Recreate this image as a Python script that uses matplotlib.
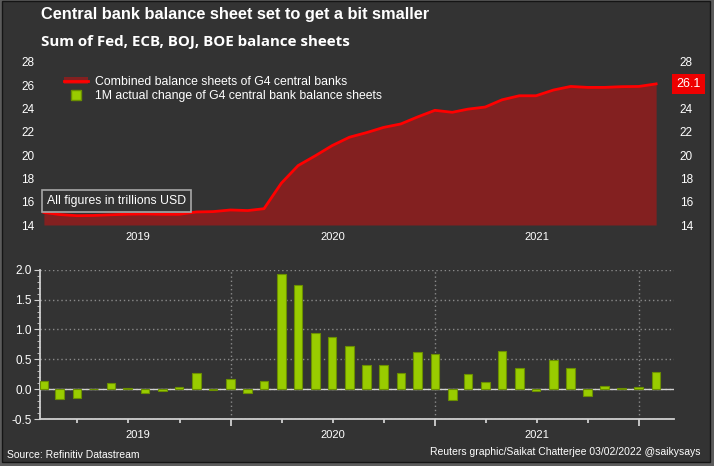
import numpy as np
import pandas as pd
import matplotlib
matplotlib.use("Agg")
import matplotlib.pyplot as plt
from matplotlib.patches import Rectangle, Patch
from matplotlib.lines import Line2D

# month-end observations, Jan 2019 .. Jan 2022
months = pd.date_range("2019-01-31", "2022-01-31", freq="ME")

# combined balance sheets of Fed, ECB, BOJ, BOE (trillions USD)
balance = [15.08, 14.90, 14.80, 14.82, 14.88, 14.93, 14.95, 14.92, 14.92,
           15.12, 15.15, 15.29, 15.24, 15.40, 17.59, 19.10, 19.95, 20.82,
           21.54, 21.94, 22.38, 22.68, 23.28, 23.85, 23.68, 23.95, 24.13,
           24.75, 25.10, 25.10, 25.59, 25.90, 25.82, 25.82, 25.88, 25.90,
           26.12]

# 1M actual change (trillions USD)
changes = [0.13, -0.17, -0.14, 0.0, 0.11, 0.02, -0.06, -0.03, 0.03,
           0.27, -0.02, 0.17, -0.07, 0.14, 1.92, 1.74, 0.94, 0.88,
           0.72, 0.40, 0.40, 0.27, 0.62, 0.59, -0.19, 0.25, 0.12,
           0.64, 0.35, -0.03, 0.49, 0.35, -0.11, 0.06, 0.02, 0.03,
           0.29]

last_label = "26.1"
left_ticks = [14, 16, 18, 20, 22, 24, 26, 28]
right_ticks = [14, 16, 18, 20, 22, 24, 28]   # 26 is hidden by the last-value tag
year_labels = ["2019", "2020", "2021"]
year_label_pos = pd.to_datetime(["2019-07-19", "2020-07-01", "2021-07-01"])
year_starts = pd.to_datetime(["2020-01-01", "2021-01-01", "2022-01-01"])
quarter_starts = pd.date_range("2019-04-01", "2022-01-01", freq="QS")

BG = "#333333"
FILL = "#832020"
LINE = "#ff0000"
BAR = "#99cc00"
BAR_EDGE = "#6b8f00"
TXT = "#ffffff"

W, H = 714, 466
fig = plt.figure(figsize=(W / 100, H / 100), dpi=100)
fig.patch.set_facecolor("#5c5c5c")
fig.patches.append(Rectangle((2 / W, 4 / H), 708 / W, 461 / H,
                             transform=fig.transFigure, facecolor=BG,
                             edgecolor="#151515", lw=1, zorder=-10))

xmin = pd.Timestamp("2019-01-24")
xmax = pd.Timestamp("2022-03-04")

# ---- top chart
ax1 = fig.add_axes([40 / W, 1 - 225 / H, 634 / W, 163 / H])
ax1.set_facecolor("none")
ax1.fill_between(months, 14, balance, color=FILL, lw=0)
ax1.plot(months, balance, color=LINE, lw=2)
ax1.set_xlim(xmin, xmax)
ax1.set_ylim(14, 28)
ax1.set_yticks(left_ticks)
ax1.set_xticks([])
ax1r = ax1.twinx()
ax1r.set_ylim(14, 28)
ax1r.set_yticks(right_ticks)
for a in (ax1, ax1r):
    for s in a.spines.values():
        s.set_visible(False)
    a.tick_params(axis="y", length=0, labelcolor=TXT, labelsize=8.5, pad=4)
    for lab in a.get_yticklabels():
        lab.set_family("Liberation Sans")
for p, t in zip(year_label_pos, year_labels):
    ax1.annotate(t, (p, 0), xycoords=("data", "axes fraction"),
                 xytext=(0, -8.6), textcoords="offset points",
                 ha="center", va="center", color=TXT, fontsize=8,
                 family="Liberation Sans")

ax1r.annotate(last_label, (1, 26.1), xycoords=("axes fraction", "data"),
              xytext=(1.5, 0), textcoords="offset points", ha="left",
              va="center", color=TXT, fontsize=9, family="Liberation Sans",
              zorder=10,
              bbox=dict(boxstyle="square,pad=0.35", fc="#ee0000", ec="none"))

ax1.text(0.011, 0.147, "All figures in trillions USD", transform=ax1.transAxes,
         ha="left", va="center", color=TXT, fontsize=8.8,
         family="Liberation Sans",
         bbox=dict(boxstyle="square,pad=0.4", fc=BG, ec="#a8a8a8", lw=1.2))

handles = [(Patch(fc=FILL, ec="none"), Line2D([], [], color=LINE, lw=2)),
           Line2D([], [], marker="s", ls="none", mfc=BAR, mec=BAR_EDGE, ms=7)]
leg = ax1.legend(handles, ["Combined balance sheets of G4 central banks",
                           "1M actual change of G4 central bank balance sheets"],
                 loc="upper left", bbox_to_anchor=(0.03, 0.945), frameon=False,
                 prop={"family": "Liberation Sans", "size": 8.8},
                 handlelength=2.0, handleheight=0.6, handletextpad=0.55,
                 labelspacing=0.15, borderaxespad=0)
for t in leg.get_texts():
    t.set_color(TXT)

# ---- bottom chart
ax2 = fig.add_axes([40 / W, 1 - 419 / H, 634 / W, 149.3 / H])
ax2.set_facecolor("none")
ax2.bar(months, changes, width=15.5, color=BAR, edgecolor=BAR_EDGE, lw=0.8,
        zorder=3)
ax2.axhline(0, color="#d0d0d0", lw=1, zorder=2)
ax2.set_xlim(xmin, xmax)
ax2.set_ylim(-0.5, 2.0)
ax2.set_yticks(np.arange(-0.5, 2.01, 0.5))
ax2.set_yticks(np.arange(-0.5, 2.01, 0.1), minor=True)
ax2.yaxis.set_major_formatter(matplotlib.ticker.FormatStrFormatter("%.1f"))
ax2.set_xticks(year_starts)
ax2.set_xticks(quarter_starts, minor=True)
ax2.set_xticklabels([])
ax2.grid(axis="y", which="major", ls=(0, (1, 2)), color="#8a8a8a", lw=1)
ax2.grid(axis="x", which="major", ls=(0, (1, 2)), color="#8a8a8a", lw=1)
for s in ["top", "right"]:
    ax2.spines[s].set_visible(False)
for s in ["left", "bottom"]:
    ax2.spines[s].set_color("#d0d0d0")
    ax2.spines[s].set_linewidth(1.3)
ax2.tick_params(axis="y", which="major", length=4, color="#d0d0d0",
                labelcolor=TXT, labelsize=8.5, pad=2)
ax2.tick_params(axis="y", which="minor", length=2.5, color="#d0d0d0")
ax2.tick_params(axis="x", which="major", length=5, width=1.3, color="#d0d0d0")
ax2.tick_params(axis="x", which="minor", length=3, width=1.3, color="#d0d0d0")
for lab in ax2.get_yticklabels():
    lab.set_family("Liberation Sans")
for p, t in zip(year_label_pos, year_labels):
    ax2.annotate(t, (p, 0), xycoords=("data", "axes fraction"),
                 xytext=(0, -11.5), textcoords="offset points",
                 ha="center", va="center", color=TXT, fontsize=8,
                 family="Liberation Sans")

# ---- titles and credits
fig.text(41 / W, 1 - 14 / H, "Central bank balance sheet set to get a bit smaller",
         ha="left", va="center", color=TXT, fontsize=11.8, fontweight="bold",
         family="Liberation Sans")
fig.text(41 / W, 1 - 42 / H, "Sum of Fed, ECB, BOJ, BOE balance sheets",
         ha="left", va="center", color=TXT, fontsize=10.9, fontweight="bold",
         family="Open Sans")
fig.text(7 / W, 1 - 455 / H, "Source: Refinitiv Datastream", ha="left",
         va="center", color=TXT, fontsize=7.5, family="Liberation Sans")
fig.text(700 / W, 1 - 452 / H,
         "Reuters graphic/Saikat Chatterjee 03/02/2022 @saikysays",
         ha="right", va="center", color=TXT, fontsize=7.5,
         family="Liberation Sans")

fig.savefig("out.png", dpi=100, facecolor=fig.get_facecolor())
